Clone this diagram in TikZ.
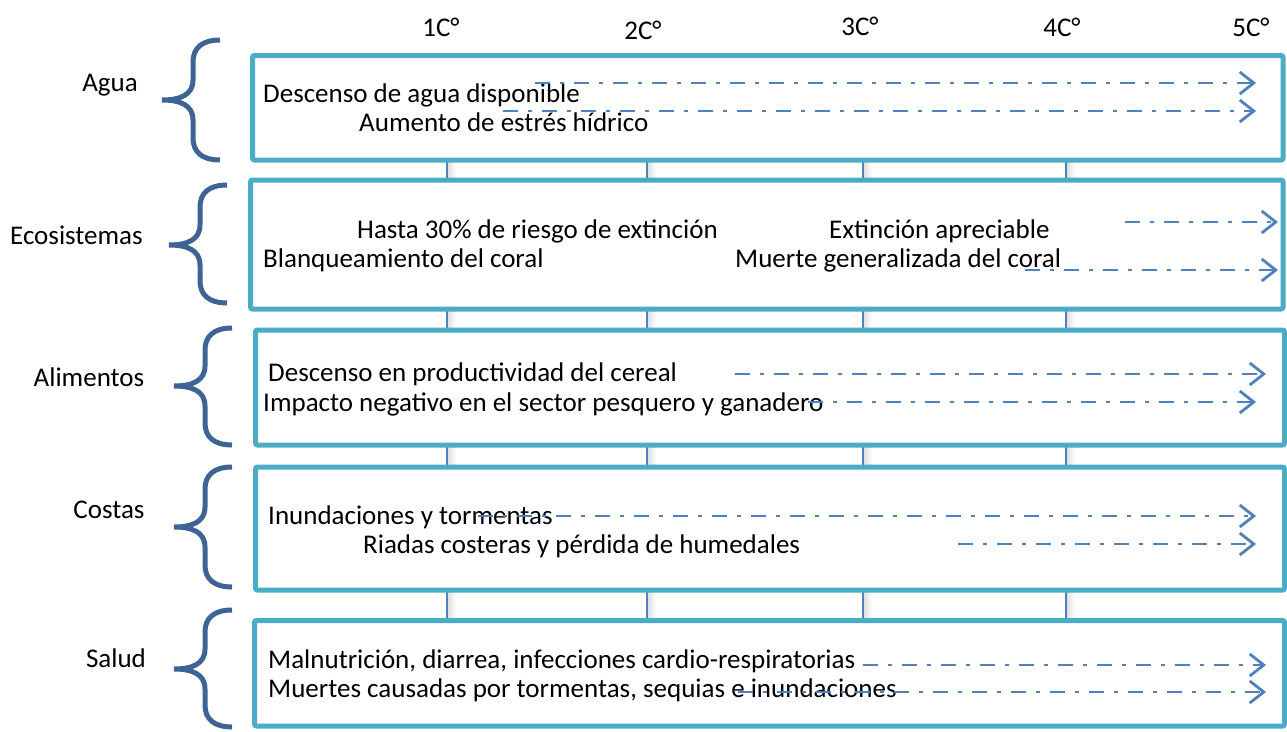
\documentclass[tikz,border=0pt]{standalone}
\usepackage{fontspec}
\setmainfont{Carlito}
\usetikzlibrary{arrows.meta}
\definecolor{boxc}{HTML}{4BACC6}
\definecolor{arrc}{HTML}{4F81BD}
\definecolor{bracec}{HTML}{3E6496}
\definecolor{vlinec}{HTML}{4F81BD}
\newcommand\mybrace[4]{%
\draw[bracestyle] (#1,#2) .. controls ({#1-18},#2) and ({#1-27},{#2+8}) .. ({#1-27},{#2+22})
 -- ({#1-27},{#3-20}) .. controls ({#1-27},{#3-5}) and ({#1-40},#3) .. ({#1-58},#3)
 .. controls ({#1-40},#3) and ({#1-27},{#3+5}) .. ({#1-27},{#3+20})
 -- ({#1-27},{#4-22}) .. controls ({#1-27},{#4-8}) and ({#1-18},#4) .. (#1,#4);}
\tikzset{
  txt/.style={inner sep=0pt, anchor=base west, font=\fontsize{27}{30}\selectfont, text=black},
  hdr/.style={inner sep=0pt, anchor=base, font=\fontsize{27}{30}\selectfont, text=black},
  rowbox/.style={draw=boxc, line width=5pt, fill=white, rounded corners=2pt},
  arr/.style={draw=arrc, line width=2.8pt, dash pattern=on 15pt off 10pt on 4pt off 10pt, -{Straight Barb[length=14pt,width=22pt]}},
  bracestyle/.style={draw=bracec, line width=5pt},
  vline/.style={draw=vlinec, line width=2pt},
  shade/.style={left color=black!12, right color=white, draw=none}
}
\begin{document}
\begin{tikzpicture}[x=1pt,y=-1pt]
\useasboundingbox (0,0) rectangle (1287,731);
% vertical lines with shadows
\foreach \xx/\nm in {447/v1,647/v2,863/v3,1066/v4}{
  \fill[shade] ({\xx+1},160) rectangle ({\xx+9},620);
  \coordinate (\nm t) at (\xx,160);
  \coordinate (\nm b) at (\xx,620);
  \draw[vline] (\nm t) -- (\nm b);
}
% boxes
\draw[rowbox] (252.5,55.5) rectangle (1283,160);
\draw[rowbox] (250.5,180) rectangle (1283,309);
\draw[rowbox] (255.5,330) rectangle (1284.5,445);
\draw[rowbox] (255.5,467) rectangle (1284.5,590);
\draw[rowbox] (254.5,620.5) rectangle (1284.5,726);
% headers
\node[hdr] (h1) at (441,36) {1C°};
\node[hdr] (h2) at (643,39) {2C°};
\node[hdr] (h3) at (860,35) {3C°};
\node[hdr] (h4) at (1062,36) {4C°};
\node[hdr] (h5) at (1251,36) {5C°};
% left labels
\node[hdr] (lagua) at (110,91) {Agua};
\node[txt] (leco) at (10,244) {Ecosistemas};
\node[hdr] (lali) at (89,386) {Alimentos};
\node[hdr] (lcos) at (109,518) {Costas};
\node[hdr] (lsal) at (116,667) {Salud};
% braces
\mybrace{220}{40}{100}{160}
\mybrace{227}{185}{245}{303}
\mybrace{232}{328}{386}{445}
\mybrace{232}{467}{527}{587}
\mybrace{232}{610}{669}{727}
% texts
\node[txt] (t11) at (263,102) {Descenso de agua disponible};
\node[txt] (t12) at (359,131) {Aumento de estrés hídrico};
\node[txt] (t21) at (357,238) {Hasta 30\% de riesgo de extinción};
\node[txt] (t22) at (829,238) {Extinción apreciable};
\node[txt] (t23) at (263,267) {Blanqueamiento del coral};
\node[txt] (t24) at (735,267) {Muerte generalizada del coral};
\node[txt] (t31) at (268,381) {Descenso en productividad del cereal};
\node[txt] (t32) at (263,411) {Impacto negativo en el sector pesquero y ganadero};
\node[txt] (t41) at (268,524) {Inundaciones y tormentas};
\node[txt] (t42) at (363,553) {Riadas costeras y pérdida de humedales};
\node[txt] (t51) at (268,668) {Malnutrición, diarrea, infecciones cardio-respiratorias};
\node[txt] (t52) at (268,697) {Muertes causadas por tormentas, sequias e inundaciones};
% arrows
\coordinate (a1s) at (535,83);  \coordinate (a1e) at (1256,83);
\coordinate (a2s) at (503,111); \coordinate (a2e) at (1256,111);
\coordinate (a3s) at (1125,222); \coordinate (a3e) at (1278,222);
\coordinate (a4s) at (1025,270); \coordinate (a4e) at (1278,270);
\coordinate (a5s) at (735,374); \coordinate (a5e) at (1266,374);
\coordinate (a6s) at (808,402); \coordinate (a6e) at (1256,402);
\coordinate (a7s) at (478,516); \coordinate (a7e) at (1256,516);
\coordinate (a8s) at (958,544); \coordinate (a8e) at (1256,544);
\coordinate (a9s) at (863,665); \coordinate (a9e) at (1266,665);
\coordinate (a10s) at (738,692); \coordinate (a10e) at (1266,692);
\foreach \i in {1,...,10}{ \draw[arr] (a\i s) -- (a\i e); }
\end{tikzpicture}
\end{document}
